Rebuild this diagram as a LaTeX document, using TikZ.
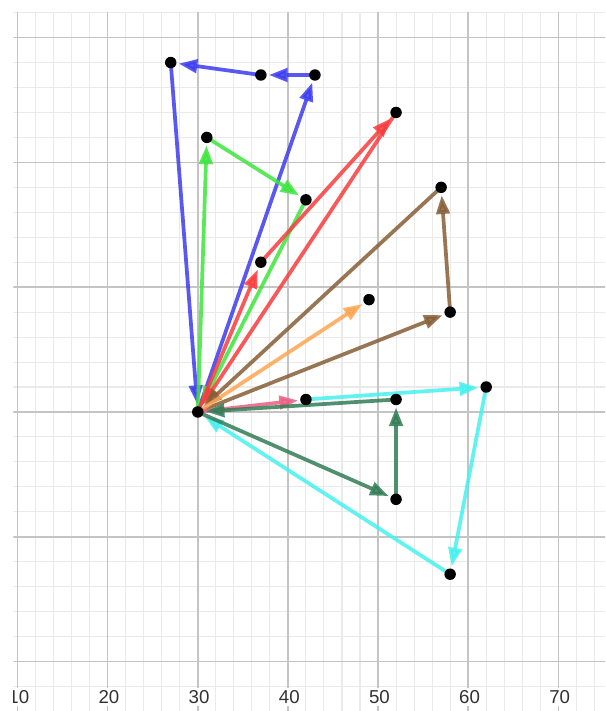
\documentclass[tikz,border=0pt]{standalone}
\usepackage{fontspec}
\setmainfont{Liberation Sans}
\usetikzlibrary{arrows.meta}
\definecolor{vblue}{RGB}{60,60,240}
\definecolor{vgreen}{RGB}{60,230,60}
\definecolor{vred}{RGB}{250,60,60}
\definecolor{vorange}{RGB}{255,165,80}
\definecolor{vbrown}{RGB}{135,95,55}
\definecolor{vpink}{RGB}{235,95,130}
\definecolor{vcyan}{RGB}{70,240,240}
\definecolor{vdgreen}{RGB}{50,125,85}
\definecolor{labgray}{RGB}{50,50,50}
\begin{document}
\begin{tikzpicture}[x=6.76pt,y=9.36pt,
  vec/.style={line width=2.8pt, opacity=0.85, -{Triangle[length=14pt,width=10pt]}, shorten >=6pt},
  dot/.style={circle, fill=black, minimum size=8.6pt, inner sep=0pt},
  minorgrid/.style={draw={rgb,255:red,234;green,234;blue,234}, line width=0.8pt},
  majorgrid/.style={draw={rgb,255:red,196;green,196;blue,196}, line width=1.1pt},
  lab/.style={fill=white, text=labgray, font=\fontsize{14}{15}\selectfont, inner sep=1.5pt}]
\useasboundingbox (8.058,-23.96) rectangle (75.18,33.01);
\fill[white] (8.058,-23.96) rectangle (75.18,33.01);
\begin{scope}
  \clip (9.55,-23.96) rectangle (75.18,32.05);
  \draw[minorgrid, xstep=2, ystep=2] (8,-24) grid (76,32.05);
  \draw[majorgrid, xstep=10, ystep=10] (8,-24) grid (76,32.05);
  \foreach \v in {10,20,...,70} {
    \node[lab] (lab\v) at (\v+0.15,-22.84) {\v};
  }
\end{scope}
% points
\coordinate (O) at (30,0);
\coordinate (B1) at (43,27);
\coordinate (B2) at (37,27);
\coordinate (B3) at (27,28);
\coordinate (G1) at (31,22);
\coordinate (G2) at (42,17);
\coordinate (R1) at (37,12);
\coordinate (R2) at (52,24);
\coordinate (N1) at (58,8);
\coordinate (N2) at (57,18);
\coordinate (A1) at (49,9);
\coordinate (P1) at (42,1);
\coordinate (C1) at (62,2);
\coordinate (C2) at (58,-13);
\coordinate (D1) at (52,-7);
\coordinate (D2) at (52,1);
% blue
\draw[vec, vblue] (O) -- (B1);
\draw[vec, vblue] (B1) -- (B2);
\draw[vec, vblue] (B2) -- (B3);
\draw[vec, vblue] (B3) -- (O);
% green
\draw[vec, vgreen] (O) -- (G1);
\draw[vec, vgreen] (G1) -- (G2);
\draw[vec, vgreen] (G2) -- (O);
% red
\draw[vec, vred] (O) -- (R1);
\draw[vec, vred] (R1) -- (R2);
\draw[vec, vred] (R2) -- (O);
% brown
\draw[vec, vbrown] (O) -- (N1);
\draw[vec, vbrown] (N1) -- (N2);
\draw[vec, vbrown] (N2) -- (O);
% orange
\draw[vec, vorange] (O) -- (A1);
% pink
\draw[vec, vpink] (O) -- (P1);
% cyan
\draw[vec, vcyan] (P1) -- (C1);
\draw[vec, vcyan] (C1) -- (C2);
\draw[vec, vcyan] (C2) -- (O);
% dark green
\draw[vec, vdgreen] (O) -- (D1);
\draw[vec, vdgreen] (D1) -- (D2);
\draw[vec, vdgreen] (D2) -- (O);
% dots
\foreach \p in {O,B1,B2,B3,G1,G2,R1,R2,N1,N2,A1,P1,C1,C2,D1,D2} {
  \node[dot] (dot\p) at (\p) {};
}
\end{tikzpicture}
\end{document}
